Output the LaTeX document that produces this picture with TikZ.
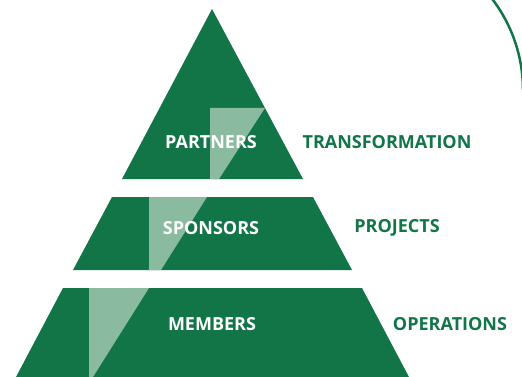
\documentclass[tikz,border=0pt]{standalone}
\usepackage{fontspec}
\setmainfont{Open Sans}
\definecolor{dkgreen}{HTML}{117548}
\definecolor{ltgreen}{HTML}{8ABAA0}
\begin{document}
\begin{tikzpicture}[x=1pt,y=-1pt,
  tier/.style={fill=dkgreen,draw=none},
  strip/.style={fill=ltgreen,draw=none},
  inlabel/.style={text=white,font=\fontsize{18}{20}\selectfont\bfseries,inner sep=0pt},
  outlabel/.style={text=dkgreen,font=\fontsize{18}{20}\selectfont\bfseries,inner sep=0pt}]
\useasboundingbox (0,0) rectangle (522,377);
\clip (0,0) rectangle (522,377);
\fill[white] (0,0) rectangle (522,377);
% arc
\draw[dkgreen,line width=2.5pt] (373,90) ++(-45:150) arc[start angle=-45,end angle=0,radius=150];
% top triangle
\fill[tier] (212,9) -- (303,179) -- (122,179) -- cycle;
\fill[strip] (210,108) -- (265,108) -- (219,179) -- (210,179) -- cycle;
% middle trapezoid
\fill[tier] (112,197) -- (313,197) -- (352,270) -- (73,270) -- cycle;
\fill[strip] (149,197) -- (207,197) -- (161,270) -- (149,270) -- cycle;
% bottom trapezoid
\fill[tier] (63,288) -- (362,288) -- (409,377) -- (16,377) -- cycle;
\fill[strip] (89,288) -- (149,288) -- (93,377) -- (89,377) -- cycle;
% labels
\node[inlabel] (partners) at (211,142) {PARTNERS};
\node[outlabel] (transf) at (387,142) {TRANSFORMATION};
\node[inlabel] (sponsors) at (211,228) {SPONSORS};
\node[outlabel] (projects) at (397,228) {PROJECTS};
\node[inlabel] (members) at (212,324) {MEMBERS};
\node[outlabel] (operations) at (450,324) {OPERATIONS};
\end{tikzpicture}
\end{document}
